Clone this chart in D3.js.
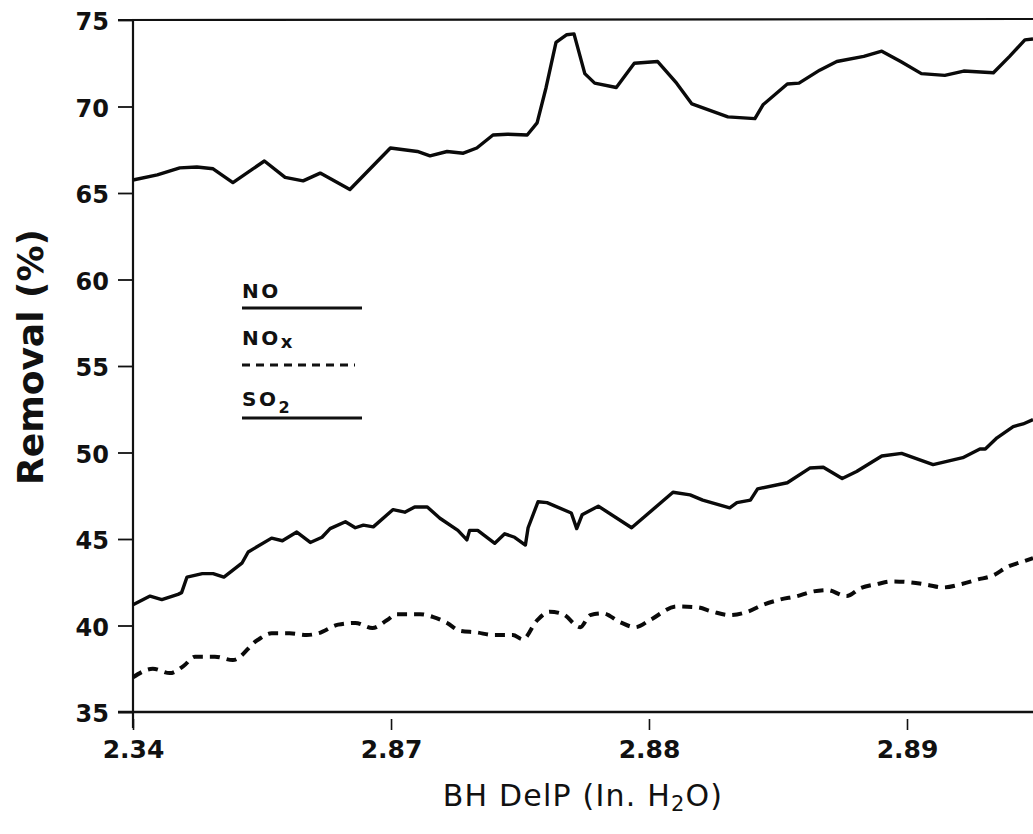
<!DOCTYPE html>
<html>
<head>
<meta charset="utf-8">
<script src="https://cdn.jsdelivr.net/npm/d3@7"></script>
<style>
  html, body { margin: 0; padding: 0; background: #fff; }
  svg { display: block; }
</style>
</head>
<body>
<svg id="chart" width="1033" height="834"></svg>
<script>
// ---------------- data ----------------
const yTickValues = [35, 40, 45, 50, 55, 60, 65, 70, 75];
const xTickPositions = [0, 28.67, 57.33, 86];          // sample index of each labelled tick
const xTickLabels = ["2.34", "2.87", "2.88", "2.89"];

const so2Idx = [0,2.7,5.2,7.1,8.9,11.1,14.6,16.9,18.9,20.8,24.1,28.6,31.6,33.0,34.9,36.7,38.2,40.0,41.6,43.8,44.9,45.9,47.0,48.2,49.0,50.2,51.3,53.7,55.7,58.3,60.4,62.1,66.1,69.1,70.0,72.7,74.0,76.3,78.2,81.2,83.2,85.3,87.6,90.2,92.3,95.6,97.4,99.1,100];
const so2Val = [65.75,66.05,66.45,66.5,66.4,65.6,66.85,65.9,65.7,66.15,65.2,67.6,67.4,67.15,67.4,67.3,67.6,68.35,68.4,68.35,69.05,71.1,73.7,74.15,74.2,71.9,71.35,71.1,72.5,72.6,71.35,70.15,69.4,69.3,70.1,71.3,71.35,72.1,72.6,72.9,73.2,72.6,71.9,71.8,72.05,71.95,72.9,73.85,73.9];

const noIdx = [0,1.9,3.2,5.0,5.4,6.0,7.7,8.9,10.1,12.1,12.8,15.4,16.6,18.2,19.7,21.0,21.9,23.6,24.7,25.6,26.7,28.9,30.2,31.3,32.7,34.1,36.1,37.1,37.4,38.3,40.2,41.3,42.4,43.6,43.9,45.0,46.0,48.7,49.3,49.9,51.7,55.4,60.0,61.9,63.3,66.3,67.1,68.6,69.4,72.7,75.2,76.7,78.8,80.4,83.2,85.4,88.9,92.2,94.1,94.7,96.0,97.8,98.9,100];
const noVal = [41.2,41.7,41.5,41.8,41.9,42.8,43.0,43.0,42.8,43.6,44.25,45.05,44.9,45.4,44.8,45.1,45.6,46.0,45.65,45.8,45.7,46.7,46.55,46.85,46.85,46.2,45.5,44.95,45.5,45.5,44.75,45.3,45.1,44.65,45.65,47.15,47.1,46.5,45.6,46.4,46.9,45.65,47.7,47.55,47.25,46.8,47.1,47.25,47.9,48.25,49.1,49.15,48.5,48.9,49.8,49.95,49.3,49.7,50.2,50.2,50.85,51.5,51.65,51.9];

const noxIdx = [0,2.2,4.1,5.6,6.9,9.1,11.1,13.8,15.4,17.4,19.3,20.6,22.8,24.7,26.6,28.2,29.3,31.9,33.3,34.9,36.3,38.2,40.0,42.2,43.3,44.9,46.3,47.8,49.7,50.8,52.2,54.1,55.8,57.4,60.4,62.7,64.4,66.3,68.3,70.0,71.9,73.8,75.4,77.1,79.3,80.8,82.7,84.4,86.3,88.3,90.0,92.1,93.8,95.6,97.2,98.9,100];
const noxVal = [37.0,37.5,37.25,37.65,38.2,38.2,38.0,39.15,39.55,39.55,39.45,39.55,40.05,40.15,39.85,40.3,40.65,40.65,40.5,40.15,39.7,39.6,39.45,39.45,39.2,40.3,40.8,40.65,39.9,40.6,40.7,40.2,39.9,40.3,41.1,41.05,40.8,40.6,40.8,41.2,41.5,41.7,41.95,42.05,41.7,42.15,42.4,42.55,42.5,42.35,42.2,42.4,42.65,42.9,43.4,43.7,43.9];

// ---------------- layout ----------------
const svg = d3.select("#chart");
const mLeft = 133, mRight = 1033, mTop = 20, mBottom = 712;
const x = d3.scaleLinear().domain([0, 100]).range([mLeft, mRight]);
const y = d3.scaleLinear().domain([35, 75]).range([mBottom, mTop]);
const font = "'DejaVu Sans', Arial, sans-serif";

// y axis
const yAxis = svg.append("g")
  .attr("transform", `translate(${mLeft},0)`)
  .call(d3.axisLeft(y).tickValues(yTickValues).tickSize(15).tickPadding(9).tickFormat(d3.format("d")));
yAxis.select(".domain").remove();
yAxis.selectAll(".tick line").attr("stroke", "#111").attr("stroke-width", 1.8);
yAxis.selectAll(".tick text")
  .attr("font-family", font).attr("font-weight", "bold").attr("font-size", 24).attr("fill", "#111")
  .attr("dy", "0.4em");

// x axis
const xAxis = svg.append("g")
  .attr("transform", `translate(0,${mBottom})`)
  .call(d3.axisBottom(x).tickValues(xTickPositions).tickSize(18).tickPadding(10)
        .tickFormat((d, i) => xTickLabels[i]));
xAxis.select(".domain").remove();
xAxis.selectAll(".tick line").attr("stroke", "#111").attr("stroke-width", 1.6).attr("y1", 7);
xAxis.selectAll(".tick text")
  .attr("font-family", font).attr("font-weight", "bold").attr("font-size", 25).attr("fill", "#111");

// frame lines: left axis, bottom axis, top border
svg.append("line").attr("x1", mLeft).attr("x2", mLeft).attr("y1", mTop).attr("y2", mBottom + 16)
  .attr("stroke", "#111").attr("stroke-width", 2.2);
svg.append("line").attr("x1", mLeft - 15).attr("x2", mRight).attr("y1", mBottom).attr("y2", mBottom)
  .attr("stroke", "#111").attr("stroke-width", 2.6);
svg.append("line").attr("x1", mLeft - 15).attr("x2", mRight).attr("y1", mTop).attr("y2", mTop - 1)
  .attr("stroke", "#111").attr("stroke-width", 2.2);

// series
const lineGen = d3.line().x(d => x(d[0])).y(d => y(d[1]));
const smoothGen = d3.line().x(d => x(d[0])).y(d => y(d[1])).curve(d3.curveMonotoneX);

svg.append("path").datum(d3.zip(so2Idx, so2Val)).attr("d", lineGen)
  .attr("fill", "none").attr("stroke", "#0a0a0a").attr("stroke-width", 3.4).attr("stroke-linejoin", "round");
svg.append("path").datum(d3.zip(noIdx, noVal)).attr("d", lineGen)
  .attr("fill", "none").attr("stroke", "#0a0a0a").attr("stroke-width", 3.4).attr("stroke-linejoin", "round");
svg.append("path").datum(d3.zip(noxIdx, noxVal)).attr("d", smoothGen)
  .attr("fill", "none").attr("stroke", "#0a0a0a").attr("stroke-width", 4).attr("stroke-dasharray", "10,7");

// legend
const lg = svg.append("g").attr("font-family", font).attr("font-weight", "bold").attr("fill", "#111")
  .attr("letter-spacing", 2.5);
lg.append("text").attr("x", 242).attr("y", 298).attr("font-size", 20).text("NO");
svg.append("line").attr("x1", 242).attr("x2", 362).attr("y1", 308).attr("y2", 308)
  .attr("stroke", "#111").attr("stroke-width", 3);
const t2 = lg.append("text").attr("x", 242).attr("y", 345).attr("font-size", 20);
t2.append("tspan").text("NO");
t2.append("tspan").attr("dy", 3).attr("font-size", 18).text("x");
svg.append("line").attr("x1", 242).attr("x2", 355).attr("y1", 365).attr("y2", 365)
  .attr("stroke", "#111").attr("stroke-width", 3).attr("stroke-dasharray", "8,6");
const t3 = lg.append("text").attr("x", 242).attr("y", 406).attr("font-size", 20);
t3.append("tspan").text("SO");
t3.append("tspan").attr("dy", 7).attr("font-size", 16).text("2");
svg.append("line").attr("x1", 242).attr("x2", 362).attr("y1", 418).attr("y2", 418)
  .attr("stroke", "#111").attr("stroke-width", 3);

// axis titles
svg.append("text")
  .attr("transform", "translate(43,357) rotate(-90)")
  .attr("text-anchor", "middle")
  .attr("font-family", font).attr("font-weight", "bold").attr("font-size", 36).attr("fill", "#111")
  .text("Removal (%)");

const xt = svg.append("text")
  .attr("x", 583).attr("y", 806)
  .attr("text-anchor", "middle")
  .attr("font-family", font).attr("font-size", 30).attr("letter-spacing", 1.2).attr("fill", "#111");
xt.append("tspan").text("BH DelP (In. H");
xt.append("tspan").attr("dy", 5).attr("font-size", 21).text("2");
xt.append("tspan").attr("dy", -5).text("O)");
</script>
</body>
</html>
